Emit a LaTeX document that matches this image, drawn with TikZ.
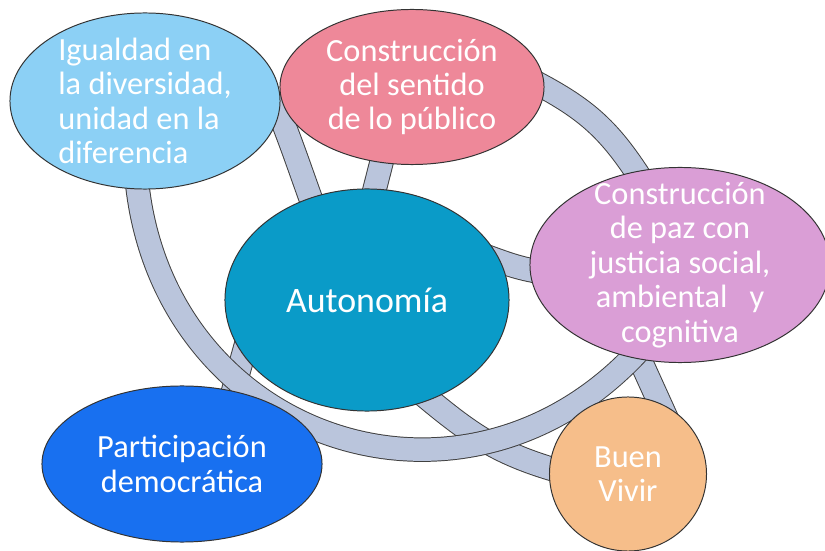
\documentclass[tikz,border=0pt]{standalone}
\usepackage{fontspec}
\setmainfont{Carlito}
\usetikzlibrary{shapes.geometric,backgrounds}

\definecolor{ringcol}{RGB}{186,197,220}
\definecolor{igualcol}{RGB}{140,208,245}
\definecolor{sentidocol}{RGB}{238,136,153}
\definecolor{pazcol}{RGB}{218,158,214}
\definecolor{autocol}{RGB}{10,155,200}
\definecolor{partcol}{RGB}{24,112,240}
\definecolor{buencol}{RGB}{246,190,138}

\begin{document}
\begin{tikzpicture}[x=0.025cm, y=0.025cm,
    bubble/.style={ellipse, draw=black!80, line width=0.7pt, inner xsep=0pt, inner ysep=-25pt,
        text=white, align=center, font=\fontsize{23}{24.5}\selectfont},
    band/.style={draw=black!75, line width=0.7pt, double=ringcol, double distance=16pt,
        shorten <=-14pt, shorten >=-14pt}
]
\useasboundingbox (0,0) rectangle (825,-551);

\node[bubble, fill=igualcol, minimum width=6.75cm, minimum height=4.4cm, align=left] (igual) at (145,-101)
    {Igualdad en\\la diversidad,\\unidad en la\\diferencia};
\node[bubble, fill=sentidocol, minimum width=6.6cm, minimum height=3.875cm] (sentido) at (412,-87)
    {Construcción\\del sentido\\de lo público};
\node[bubble, fill=pazcol, minimum width=7.5cm, minimum height=4.875cm] (paz) at (680,-265)
    {Construcción\\de paz con\\justicia social,\\ambiental~~~y\\cognitiva};
\node[bubble, fill=autocol, minimum width=7.1cm, minimum height=5.55cm,
    font=\fontsize{25.5}{27}\selectfont] (auto) at (367,-300) {Autonomía};
\node[bubble, fill=partcol, minimum width=7cm, minimum height=3.9cm] (part) at (182,-464)
    {Participación\\democrática};
\node[bubble, fill=buencol, minimum width=3.925cm, minimum height=3.85cm] (buen) at (628,-474)
    {Buen\\Vivir};

\begin{pgfonlayer}{background}
% spokes to the centre
\draw[band] (igual.-5) to[out=-68, in=110] (auto.119);
\draw[band] (sentido.-112) -- (auto.86);
\draw[band] (auto.16) to[out=-20, in=170] (paz.182);
\draw[band] (auto.-58) to[out=-40, in=165] (buen.176);
\draw[band] (auto.204) -- (part.55);
% outer links
\draw[band] (sentido.0) to[out=-27, in=122] (paz.115);
\draw[band] (paz.247) -- (buen.66);
\draw[band] (igual.-95) to[out=-86, in=229, looseness=1.23] (paz.243);
\end{pgfonlayer}
\end{tikzpicture}
\end{document}
